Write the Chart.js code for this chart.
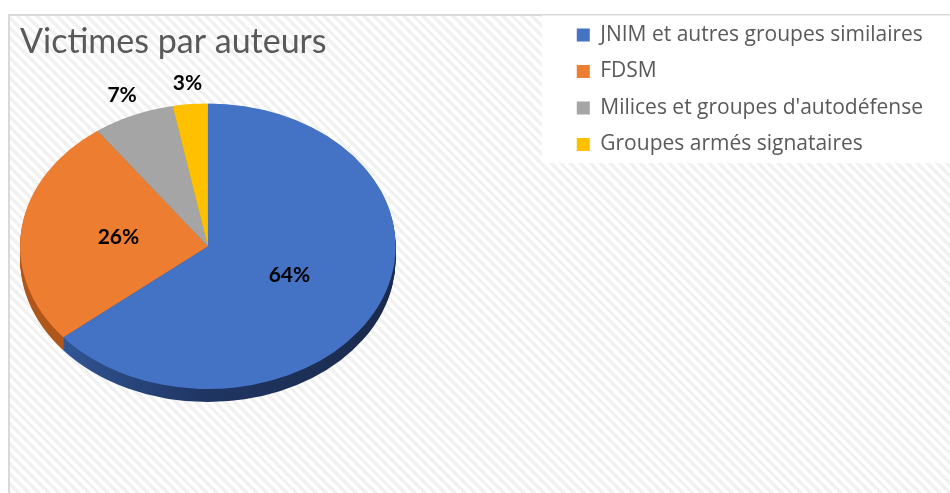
<!DOCTYPE html>
<html>
<head>
<meta charset="utf-8">
<script src="https://cdn.jsdelivr.net/npm/chart.js@4.4.1/dist/chart.umd.min.js"></script>
<style>
html, body { margin: 0; padding: 0; background: #fff; }
#wrap { position: relative; width: 950px; height: 493px; overflow: hidden; }
#frame {
    position: absolute; left: 8px; top: 14px; right: -10px; bottom: -10px;
    border: 2px solid #d9d9d9;
    background: repeating-linear-gradient(45deg, #ffffff 0 3.5px, #f1f1f1 3.5px 7px);
}
#chart { position: absolute; left: 0; top: 0; }
</style>
</head>
<body>
<div id="wrap">
    <div id="frame"></div>
    <canvas id="chart" width="950" height="493"></canvas>
</div>
<script>
// data
const titleText = 'Victimes par auteurs';
const categories = [
    'JNIM et autres groupes similaires',
    'FDSM',
    "Milices et groupes d'autodéfense",
    'Groupes armés signataires'
];
const shares = [64, 26, 7, 3];

// styles
const colors = ['#4472c4', '#ed7d31', '#a5a5a5', '#ffc000'];
const sideColors = ['#203864', '#b0581c', '#7c7c7c', '#bf9000'];
const TILT = 143 / 188;   // vertical squash of the pie
const DEPTH = 13;         // thickness of the pie edge in px

function squash(ctx, cy, dy) {
    ctx.translate(0, cy + dy);
    ctx.scale(1, TILT);
    ctx.translate(0, -cy);
}

// empty box on the right that keeps the pie on the left of the legend
// (display:false so it does not halve the width the legend may use)
const spacer = {
    position: 'right',
    weight: 0,
    fullSize: false,
    options: { display: false },
    width: 0,
    height: 0,
    update: function (maxWidth, maxHeight) {
        this.width = 165.5;
        this.height = maxHeight;
    },
    isHorizontal: function () { return false; },
    draw: function () {}
};

const spacerPlugin = {
    id: 'spacer',
    beforeInit: function (chart) {
        Chart.layouts.addBox(chart, spacer);
    }
};

const legendBg = {
    id: 'legendBg',
    beforeDraw: function (chart) {
        const hb = chart.legend.legendHitBoxes;
        if (!hb || !hb.length) return;
        const last = hb[hb.length - 1];
        const top = hb[0].top - 9;
        const bottom = last.top + last.height + 8;
        const left = hb[0].left - 35;
        const ctx = chart.ctx;
        ctx.save();
        ctx.fillStyle = '#ffffff';
        ctx.fillRect(left, top, chart.width - left, bottom - top);
        ctx.restore();
    }
};

const pie3d = {
    id: 'pie3d',
    beforeDatasetsDraw: function (chart) {
        const ctx = chart.ctx;
        const arcs = chart.getDatasetMeta(0).data;
        const cx = arcs[0].x, cy = arcs[0].y, r = arcs[0].outerRadius;

        const blueSide = ctx.createLinearGradient(cx - r, 0, cx + r, 0);
        blueSide.addColorStop(0, '#3763ad');
        blueSide.addColorStop(0.2, '#2c4d88');
        blueSide.addColorStop(0.5, '#1f3562');
        blueSide.addColorStop(1, '#1a2a4a');
        const fills = sideColors.slice();
        fills[0] = blueSide;

        for (let d = DEPTH; d >= 1; d--) {
            arcs.forEach(function (arc, i) {
                ctx.save();
                squash(ctx, cy, d);
                ctx.beginPath();
                ctx.moveTo(arc.x, arc.y);
                ctx.arc(arc.x, arc.y, arc.outerRadius, arc.startAngle, arc.endAngle);
                ctx.closePath();
                ctx.fillStyle = fills[i];
                ctx.fill();
                ctx.restore();
            });
        }
        ctx.save();
        squash(ctx, cy, 0);
    },
    afterDatasetsDraw: function (chart) {
        const ctx = chart.ctx;
        ctx.restore();

        const arcs = chart.getDatasetMeta(0).data;
        ctx.save();
        ctx.font = 'bold 21px Lato';
        ctx.fillStyle = '#000000';
        ctx.textAlign = 'center';
        ctx.textBaseline = 'middle';
        arcs.forEach(function (arc, i) {
            const mid = (arc.startAngle + arc.endAngle) / 2;
            const f = shares[i] < 10 ? 1.15 : 0.48;
            const x = arc.x + Math.cos(mid) * arc.outerRadius * f;
            const y = arc.y + Math.sin(mid) * arc.outerRadius * f * TILT;
            ctx.fillText(shares[i] + '%', x, y);
        });
        ctx.restore();
    }
};

function drawChart() {
    new Chart(document.getElementById('chart'), {
        type: 'pie',
        data: {
            labels: categories,
            datasets: [{
                data: shares,
                backgroundColor: colors,
                borderWidth: 0
            }]
        },
        options: {
            responsive: false,
            animation: false,
            devicePixelRatio: 1,
            layout: {
                padding: { left: 20, top: 9, right: 17, bottom: 59 }
            },
            plugins: {
                title: {
                    display: true,
                    text: titleText,
                    align: 'start',
                    fullSize: false,
                    color: '#595959',
                    font: { family: 'Lato', size: 34, weight: 'normal', lineHeight: 1 },
                    padding: { top: 16, bottom: -0.5 }
                },
                legend: {
                    position: 'right',
                    align: 'start',
                    labels: {
                        boxWidth: 13,
                        boxHeight: 13,
                        padding: 15.5,
                        color: '#595959',
                        font: { family: "'Open Sans'", size: 21 }
                    }
                },
                tooltip: { enabled: false }
            }
        },
        plugins: [spacerPlugin, legendBg, pie3d]
    });
}

Promise.all([
    document.fonts.load("21px 'Open Sans'"),
    document.fonts.load('34px Lato'),
    document.fonts.load('bold 21px Lato')
]).then(drawChart, drawChart);
</script>
</body>
</html>
